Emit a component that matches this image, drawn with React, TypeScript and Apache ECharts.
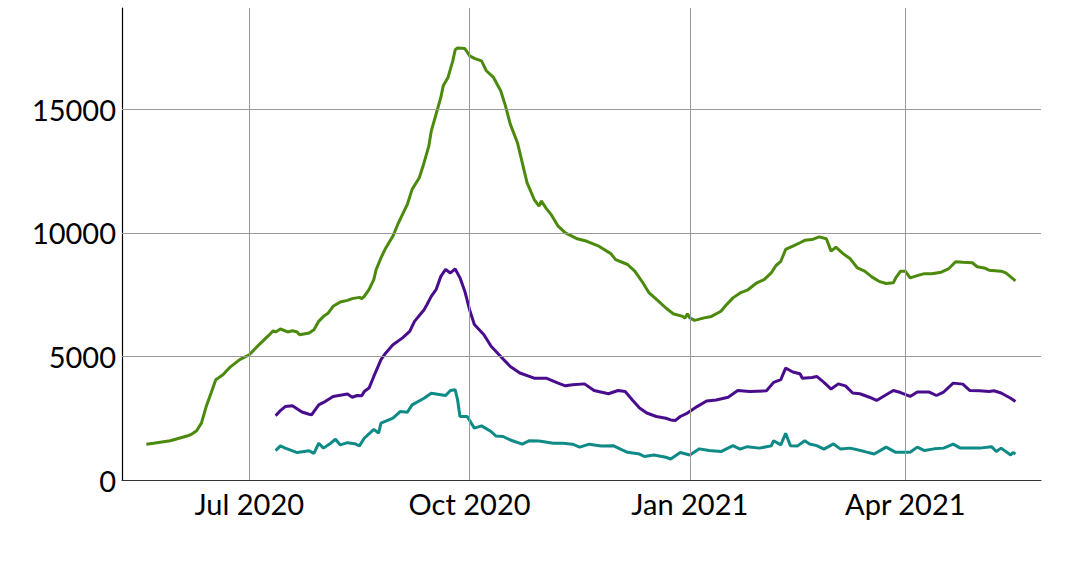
import React, { useEffect, useRef } from "react";
import * as echarts from "echarts";

const greenDates = [
  "2020-05-19","2020-05-22","2020-05-29","2020-06-05","2020-06-07","2020-06-09","2020-06-11","2020-06-13","2020-06-15","2020-06-17",
  "2020-06-20","2020-06-23","2020-06-27","2020-07-01","2020-07-05","2020-07-09","2020-07-11","2020-07-12","2020-07-14","2020-07-17",
  "2020-07-19","2020-07-21","2020-07-22","2020-07-26","2020-07-28","2020-07-30","2020-08-01","2020-08-03","2020-08-05","2020-08-08",
  "2020-08-11","2020-08-13","2020-08-16","2020-08-17","2020-08-18","2020-08-20","2020-08-22","2020-08-23","2020-08-25","2020-08-27",
  "2020-08-30","2020-09-01","2020-09-03","2020-09-05","2020-09-07","2020-09-10","2020-09-12","2020-09-14","2020-09-15","2020-09-17",
  "2020-09-19","2020-09-20","2020-09-22","2020-09-24","2020-09-25","2020-09-26","2020-09-29","2020-10-01","2020-10-03","2020-10-06",
  "2020-10-08","2020-10-11","2020-10-14","2020-10-16","2020-10-18","2020-10-21","2020-10-23","2020-10-25","2020-10-28","2020-10-30",
  "2020-10-31","2020-11-02","2020-11-04","2020-11-07","2020-11-10","2020-11-15","2020-11-19","2020-11-24","2020-11-29","2020-12-01",
  "2020-12-06","2020-12-09","2020-12-12","2020-12-15","2020-12-19","2020-12-22","2020-12-25","2020-12-29","2020-12-30","2020-12-31",
  "2021-01-01","2021-01-03","2021-01-07","2021-01-10","2021-01-14","2021-01-16","2021-01-19","2021-01-22","2021-01-25","2021-01-29",
  "2021-02-01","2021-02-04","2021-02-06","2021-02-08","2021-02-10","2021-02-13","2021-02-16","2021-02-18","2021-02-21","2021-02-24",
  "2021-02-27","2021-03-01","2021-03-03","2021-03-06","2021-03-09","2021-03-12","2021-03-15","2021-03-18","2021-03-21","2021-03-24",
  "2021-03-27","2021-03-28","2021-03-30","2021-04-01","2021-04-03","2021-04-06","2021-04-09","2021-04-12","2021-04-16","2021-04-19",
  "2021-04-22","2021-04-25","2021-04-29","2021-05-01","2021-05-04","2021-05-06","2021-05-11","2021-05-13","2021-05-17",
];
const greenValues = [
  1450,1490,1590,1780,1860,1990,2300,2970,3510,4060,
  4260,4570,4870,5070,5470,5840,6040,5990,6110,5990,
  6040,5990,5880,5950,6080,6420,6620,6760,7030,7200,
  7270,7340,7390,7340,7430,7700,8110,8520,8990,9390,
  9870,10340,10750,11150,11760,12230,12840,13520,14120,14800,
  15480,15950,16290,16960,17410,17480,17460,17170,17060,16960,
  16560,16290,15750,15140,14400,13650,12840,12030,11350,11080,
  11290,10990,10750,10270,10000,9760,9660,9460,9160,8920,
  8720,8450,8040,7570,7230,6960,6730,6620,6560,6730,
  6560,6460,6560,6620,6830,7060,7370,7570,7680,7980,
  8110,8380,8680,8850,9330,9460,9600,9700,9730,9840,
  9760,9260,9420,9160,8950,8580,8450,8220,8040,7950,
  7980,8180,8450,8450,8180,8270,8350,8350,8410,8540,
  8830,8810,8790,8630,8580,8490,8450,8380,8060,
];

const purpleDates = [
  "2020-07-12","2020-07-14","2020-07-16","2020-07-19","2020-07-23","2020-07-26","2020-07-27","2020-07-30","2020-08-01","2020-08-05",
  "2020-08-11","2020-08-13","2020-08-15","2020-08-17","2020-08-18","2020-08-20","2020-08-22","2020-08-25","2020-08-27","2020-08-30",
  "2020-09-03","2020-09-06","2020-09-08","2020-09-12","2020-09-13","2020-09-15","2020-09-17","2020-09-19","2020-09-21","2020-09-23",
  "2020-09-25","2020-09-27","2020-09-29","2020-10-01","2020-10-03","2020-10-07","2020-10-10","2020-10-14","2020-10-18","2020-10-22",
  "2020-10-28","2020-11-02","2020-11-07","2020-11-10","2020-11-13","2020-11-18","2020-11-22","2020-11-28","2020-12-02","2020-12-05",
  "2020-12-08","2020-12-11","2020-12-14","2020-12-18","2020-12-22","2020-12-24","2020-12-26","2020-12-28","2020-12-31","2021-01-04",
  "2021-01-08","2021-01-12","2021-01-17","2021-01-21","2021-01-26","2021-02-02","2021-02-05","2021-02-08","2021-02-10","2021-02-13",
  "2021-02-16","2021-02-17","2021-02-21","2021-02-23","2021-02-26","2021-03-01","2021-03-04","2021-03-07","2021-03-10","2021-03-13",
  "2021-03-17","2021-03-20","2021-03-24","2021-03-27","2021-03-30","2021-04-03","2021-04-06","2021-04-11","2021-04-14","2021-04-17",
  "2021-04-21","2021-04-25","2021-04-28","2021-05-02","2021-05-06","2021-05-08","2021-05-11","2021-05-15","2021-05-17",
];
const purpleValues = [
  2600,2810,2970,3000,2750,2660,2640,3040,3140,3380,
  3480,3350,3420,3410,3580,3720,4190,4870,5140,5470,
  5750,6010,6420,6890,7060,7430,7700,8240,8520,8380,
  8540,8180,7640,6890,6290,5880,5410,5000,4590,4330,
  4120,4120,3920,3810,3850,3890,3620,3490,3620,3580,
  3240,2910,2710,2570,2500,2430,2410,2570,2710,2970,
  3200,3240,3350,3620,3580,3610,3950,4060,4530,4370,
  4300,4120,4150,4190,3950,3680,3890,3810,3520,3490,
  3350,3220,3450,3620,3540,3380,3560,3560,3420,3560,
  3920,3880,3620,3610,3580,3610,3520,3310,3180,
];

const tealDates = [
  "2020-07-12","2020-07-14","2020-07-16","2020-07-21","2020-07-26","2020-07-28","2020-07-30","2020-08-01","2020-08-04","2020-08-06",
  "2020-08-08","2020-08-11","2020-08-14","2020-08-16","2020-08-18","2020-08-20","2020-08-22","2020-08-24","2020-08-25","2020-08-30",
  "2020-09-02","2020-09-05","2020-09-07","2020-09-12","2020-09-15","2020-09-19","2020-09-21","2020-09-23","2020-09-25","2020-09-26",
  "2020-09-27","2020-09-30","2020-10-03","2020-10-06","2020-10-10","2020-10-12","2020-10-15","2020-10-18","2020-10-23","2020-10-26",
  "2020-10-30","2020-11-05","2020-11-09","2020-11-13","2020-11-16","2020-11-20","2020-11-25","2020-11-30","2020-12-03","2020-12-06",
  "2020-12-11","2020-12-13","2020-12-17","2020-12-22","2020-12-24","2020-12-28","2021-01-01","2021-01-05","2021-01-09","2021-01-14",
  "2021-01-19","2021-01-22","2021-01-25","2021-01-30","2021-02-04","2021-02-05","2021-02-08","2021-02-10","2021-02-12","2021-02-15",
  "2021-02-18","2021-02-20","2021-02-23","2021-02-26","2021-03-02","2021-03-05","2021-03-09","2021-03-15","2021-03-19","2021-03-22",
  "2021-03-24","2021-03-28","2021-04-03","2021-04-06","2021-04-09","2021-04-13","2021-04-17","2021-04-21","2021-04-24","2021-04-28",
  "2021-05-02","2021-05-07","2021-05-09","2021-05-11","2021-05-15","2021-05-16","2021-05-17",
];
const tealValues = [
  1190,1380,1290,1110,1180,1080,1490,1290,1490,1650,
  1420,1510,1470,1380,1690,1870,2050,1900,2300,2500,
  2770,2740,3040,3310,3510,3450,3420,3620,3650,3240,
  2570,2570,2100,2190,1960,1780,1760,1620,1450,1590,
  1580,1490,1490,1450,1330,1450,1380,1390,1250,1120,
  1050,950,1010,920,850,1110,1010,1260,1190,1150,
  1390,1250,1350,1290,1380,1590,1420,1890,1390,1380,
  1590,1460,1390,1250,1460,1250,1290,1150,1050,1220,
  1330,1120,1120,1330,1190,1260,1290,1450,1290,1290,
  1290,1350,1150,1290,1010,1110,1050,
];

const quarterTicks = ["2020-07-01", "2020-10-01", "2021-01-01", "2021-04-01"];
const quarterLabels = ["Jul 2020", "Oct 2020", "Jan 2021", "Apr 2021"];
const yGridValues = [5000, 10000, 15000];

const xMin = "2020-05-08 20:00";
const xMax = "2021-05-27 16:00";
const yMax = 19100;

const toTime = (s: string) => echarts.time.parse(s).getTime();
const zip = (d: string[], v: number[]) => d.map((x, i) => [toTime(x), v[i]]);

export default function App() {
  const ref = useRef<HTMLDivElement>(null);
  useEffect(() => {
    if (!ref.current) return;
    const chart = echarts.init(ref.current, null, { renderer: "svg" });
    const tickTimes = quarterTicks.map(toTime);
    const labelFor = (v: number) => {
      const i = tickTimes.findIndex((t) => Math.abs(t - v) < 3600 * 1000);
      return i >= 0 ? quarterLabels[i] : "";
    };
    const font = "Lato";
    const lineW = 3;
    chart.setOption({
      animation: false,
      textStyle: { fontFamily: font },
      grid: { left: 122, right: 39, top: 8, bottom: 104, containLabel: false },
      xAxis: {
        type: "value",
        min: toTime(xMin),
        max: toTime(xMax),
        axisLine: { show: true, lineStyle: { color: "#333", width: 1.2 } },
        axisTick: { show: false },
        splitLine: { show: false },
        axisLabel: {
          customValues: tickTimes,
          formatter: (v: number) => labelFor(v),
          fontFamily: font,
          fontSize: 29,
          color: "#000",
          margin: 9,
          hideOverlap: false,
        },
      },
      yAxis: {
        type: "value",
        min: 0,
        max: yMax,
        interval: 5000,
        axisLine: { show: true, lineStyle: { color: "#000", width: 1.2 } },
        axisTick: { show: false },
        splitLine: { show: false },
        axisLabel: {
          fontFamily: font,
          fontSize: 29,
          color: "#000",
          margin: 6,
          showMaxLabel: false,
          formatter: (v: number) => String(v),
        },
      },
      series: [
        {
          type: "line",
          data: [],
          z: 1,
          silent: true,
          markLine: {
            silent: true,
            symbol: "none",
            label: { show: false },
            lineStyle: { color: "#999", width: 1, type: "solid" },
            emphasis: { disabled: true },
            data: [
              ...tickTimes.map((t) => ({ xAxis: t })),
              ...yGridValues.map((v) => ({ yAxis: v })),
            ],
          },
        },
        {
          type: "line",
          data: zip(greenDates, greenValues),
          showSymbol: false,
          z: 3,
          lineStyle: { color: "#4b8a0c", width: lineW },
          itemStyle: { color: "#4b8a0c" },
        },
        {
          type: "line",
          data: zip(purpleDates, purpleValues),
          showSymbol: false,
          z: 3,
          lineStyle: { color: "#490c8d", width: lineW },
          itemStyle: { color: "#490c8d" },
        },
        {
          type: "line",
          data: zip(tealDates, tealValues),
          showSymbol: false,
          z: 3,
          lineStyle: { color: "#0e8a87", width: lineW },
          itemStyle: { color: "#0e8a87" },
        },
      ],
    });
    return () => chart.dispose();
  }, []);
  return (
    <div
      ref={ref}
      style={{ position: "absolute", left: 0, top: 0, width: 1080, height: 584, background: "#fff" }}
    />
  );
}
